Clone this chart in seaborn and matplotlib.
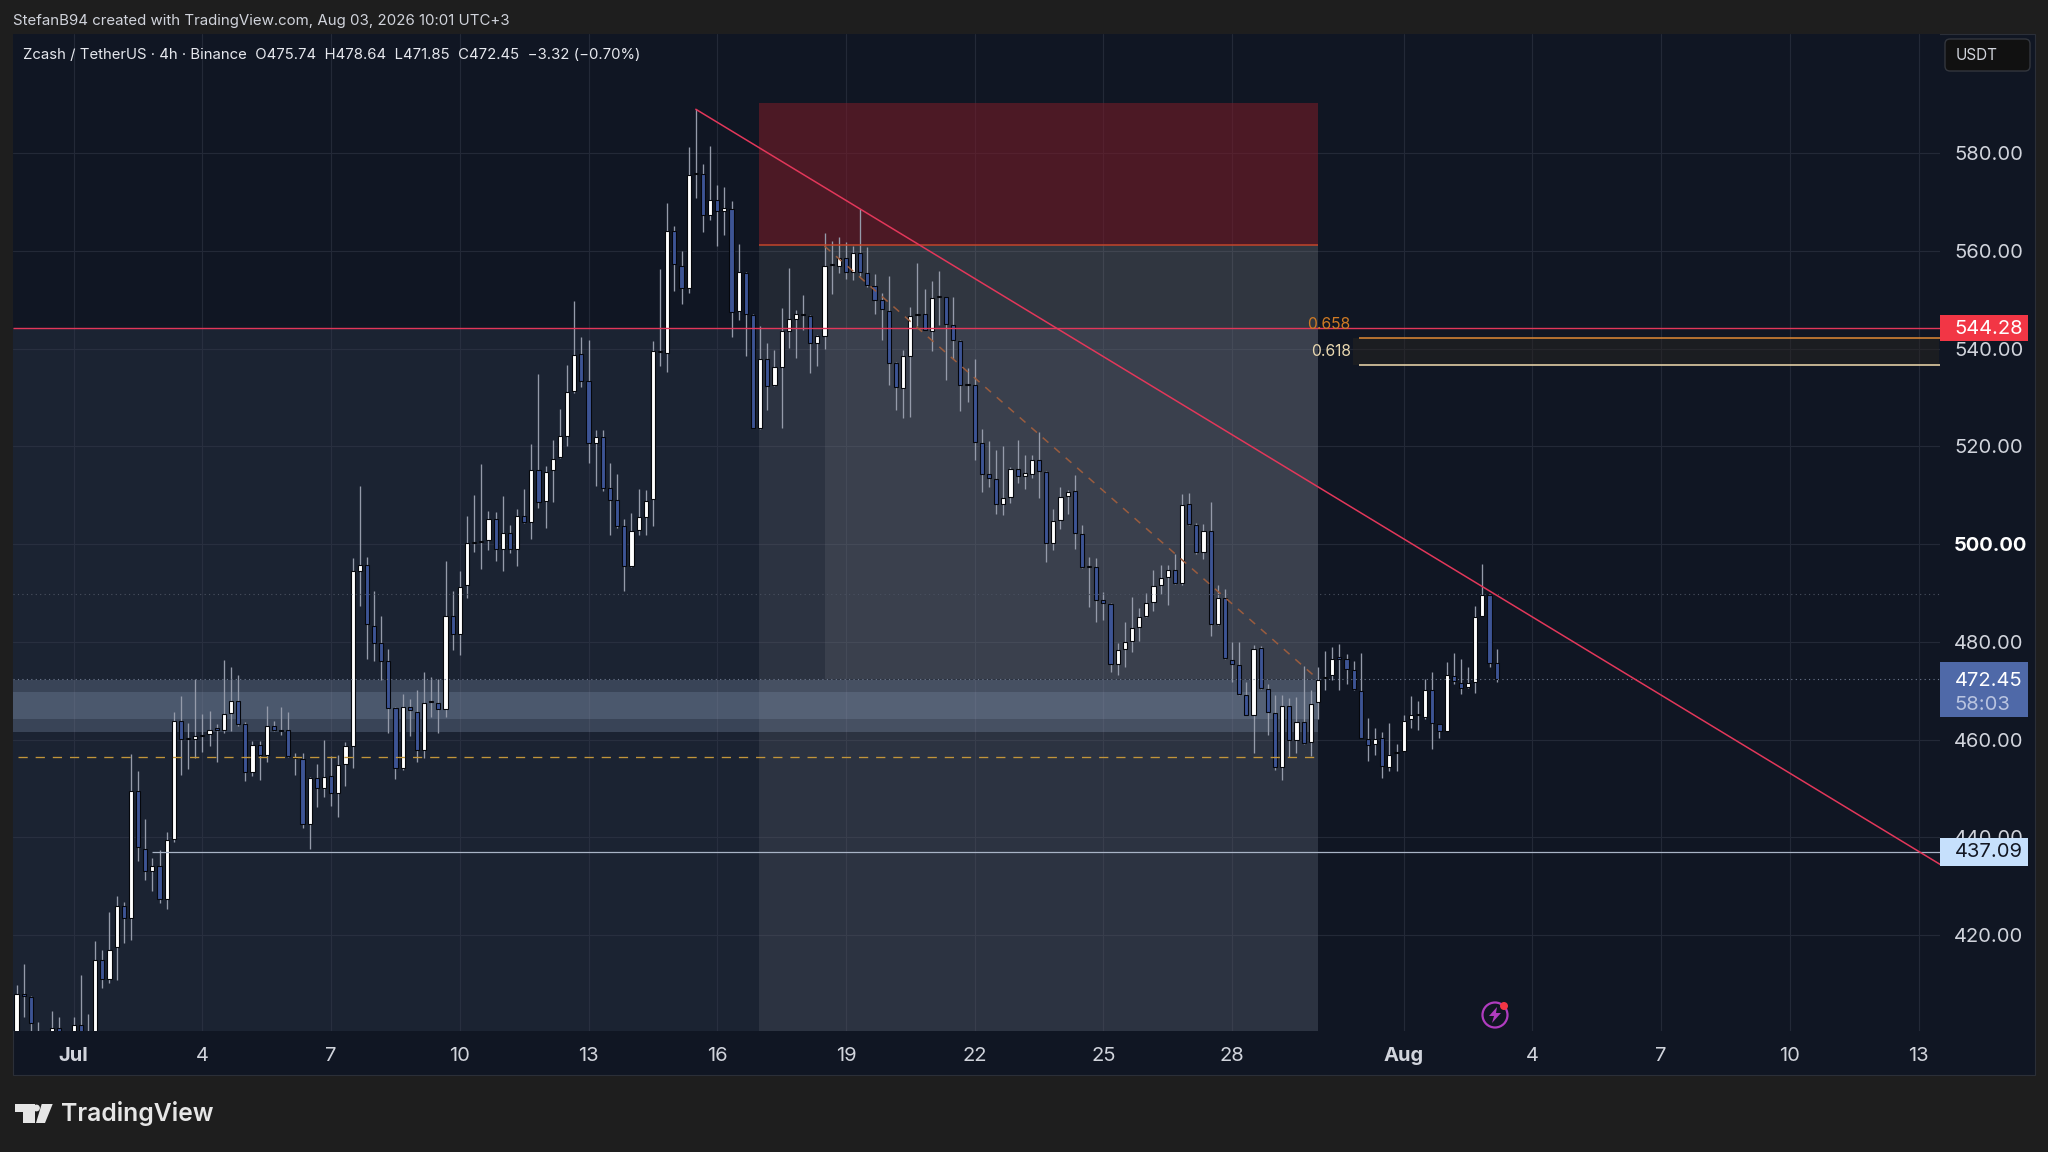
import numpy as np
import pandas as pd
import seaborn as sns
import matplotlib
matplotlib.use("Agg")
import matplotlib.pyplot as plt
from matplotlib.patches import Rectangle, Polygon, Circle, FancyBboxPatch
from matplotlib.transforms import IdentityTransform

# 4h candles (first one is 8 bars before Jul 1)
opens = [396, 408, 407.3, 399, 398, 398, 401, 399, 399, 401.7, 399, 399,
         415, 411.1, 417.5, 426, 423.5, 449.6, 437.7, 433.1, 434.1, 427.5, 439.6, 463.8,
         460.1, 460.2, 460.7, 461.1, 462.3, 462, 465.5, 467.9, 463.2, 453.3, 458.9, 456.9,
         462.8, 462, 462, 456.5, 456, 442.8, 452.2, 450.2, 452.5, 449, 455.1, 458.8,
         494.5, 495.8, 483.2, 479.7, 476.1, 466.4, 454.3, 466.6, 465.7, 457.8, 467.8, 467.6,
         466.2, 485.3, 481.6, 491.7, 500.3, 500.5, 500.9, 505.2, 499.1, 502.2, 499.1, 505.7,
         504.6, 515.1, 508.8, 515.1, 517.9, 522.1, 531.4, 538.9, 533.4, 520.7, 521.9, 511.6,
         509.1, 503.7, 495.6, 502.9, 505.6, 509.3, 539.4, 539.2, 564, 557, 552.4, 575.7,
         575.8, 567.4, 570.4, 568.2, 568.5, 547.8, 555.5, 546.9, 523.7, 537.8, 532.5, 536.3,
         543.7, 546.1, 547.2, 546.8, 541.1, 542.7, 557.1, 557, 558.5, 555.8, 559.5, 555.5,
         552.8, 549.9, 547.8, 537, 532, 538.6, 547, 547.2, 543.7, 550.5, 550.5, 544.9,
         541.6, 532.5, 532.6, 520.7, 514.3, 513.4, 508.2, 509.6, 515.3, 514, 514.4, 517.3,
         514.8, 500.3, 504.9, 509.8, 510.8, 502.1, 495.4, 495.4, 488.5, 487.8, 475.4, 478.5,
         480.2, 483, 485.4, 488.1, 491.7, 493.2, 494.7, 492, 508.3, 503.9, 498.4, 502.8,
         483.7, 489.1, 476.4, 475.2, 469.2, 465.1, 478.7, 470.4, 465.5, 454.5, 466.9, 460,
         463.7, 459.5, 467.7, 472.7, 473.2, 476.9, 476.5, 474.2, 470, 460.2, 459.1, 460.4,
         454.4, 457.3, 457.7, 464.2, 465.1, 464.6, 470.1, 463.2, 461.8, 473.1, 471.7, 470.7,
         471.8, 485.4, 489.7, 475.74]
closes = [408, 407.6, 402, 398, 397, 401, 399, 398, 401.7, 399, 400, 415,
          411.1, 417, 426, 423.5, 449.6, 438, 433.1, 434.1, 427.5, 439.4, 463.8, 460.1,
          460.3, 460.7, 461, 462, 462, 465.2, 468, 463.3, 453.3, 458.9, 456.9, 462.8,
          462, 461.7, 456.6, 456.3, 442.8, 452.2, 450.2, 452.4, 449, 454.8, 458.7, 494.5,
          495.8, 483.7, 479.8, 476.2, 466.4, 454.3, 466.6, 466, 457.8, 467.6, 468, 466.2,
          485.3, 481.6, 491.2, 500.2, 500.5, 500.7, 505.2, 499.1, 502.2, 499.1, 505.7, 504.5,
          515.1, 508.7, 514.7, 517.5, 522.1, 531.2, 538.7, 533.4, 520.7, 521.9, 511.6, 509.1,
          503.8, 495.6, 502.7, 505.5, 508.9, 539.5, 539.6, 564, 557.4, 552.4, 575.6, 575.9,
          567.4, 570.4, 568.2, 568.7, 547.6, 555.6, 547.1, 523.7, 537.8, 532.4, 536.2, 543.6,
          546, 547.2, 547, 541.2, 542.6, 557, 557.3, 558.5, 555.8, 559.5, 555.6, 553,
          550, 548.2, 537.1, 532.1, 538.6, 546.8, 547.2, 543.9, 550.3, 550.7, 545.1, 541.8,
          532.6, 532.7, 520.9, 514.4, 513.6, 508.2, 509.5, 515.3, 514, 514.5, 517.3, 515,
          500.2, 504.7, 509.6, 510.7, 502.4, 495.3, 495.6, 488.6, 488, 475.4, 478.3, 479.9,
          482.8, 485.2, 487.9, 491.5, 493.1, 494.7, 492, 508, 504.1, 498.4, 502.8, 483.7,
          489.1, 476.8, 475.4, 469.3, 465.1, 478.5, 470.6, 465.6, 454.4, 466.8, 460, 463.7,
          459.3, 467.3, 472.3, 472.9, 476.5, 476.6, 474.5, 470.3, 460.4, 459, 460.2, 454.6,
          456.9, 457.5, 463.8, 465, 465.3, 470.1, 463.4, 461.8, 473.2, 472.1, 470.6, 471.7,
          485.1, 489.7, 475.7, 472.45]
highs = [409.8, 414.2, 407.5, 402.2, 399, 404.5, 403.2, 400, 403.2, 411.8, 403.8, 418.8,
         417, 424.7, 428, 426.8, 457.1, 453.6, 443.7, 435.8, 437.5, 441.2, 465.6, 468.9,
         463.5, 472.5, 465.2, 465.8, 463.3, 476.3, 474.8, 473.3, 463.6, 459.7, 459.7, 466.9,
         463.9, 466.7, 465.6, 457.2, 457.2, 452.4, 455, 460, 456.6, 456.9, 459.5, 497.2,
         511.9, 497.3, 490.5, 485.3, 478.6, 466.6, 469.4, 468.4, 470.1, 473.9, 472.9, 472.5,
         496.5, 490.4, 494.6, 505.7, 510, 516.4, 506.8, 506.5, 509.8, 504, 507.3, 511.4,
         520.6, 534.9, 516, 521.3, 527.7, 536.7, 549.7, 542.4, 541.8, 523.4, 523.4, 516.7,
         514.4, 505.2, 506.4, 511.4, 511.1, 541.6, 556.4, 569.9, 565.2, 560, 581.3, 589,
         577.7, 581.4, 573.6, 573, 570.2, 561.4, 555.6, 547.2, 544.6, 541.2, 539.7, 548.4,
         556.6, 548, 551, 547, 542.8, 563.7, 562, 562.8, 561.8, 561.1, 568.6, 560.8,
         555.3, 551.4, 554.9, 537.2, 539.7, 548.5, 557.6, 552.2, 553.8, 556, 550.6, 550.5,
         541.8, 536, 537.8, 523.6, 521.1, 519.2, 520, 515.7, 521.3, 518.3, 518.3, 523,
         515, 507.3, 511.7, 511.1, 514.1, 504, 497.3, 497.1, 490.3, 488, 479.7, 484.1,
         489.2, 487, 490.1, 494.8, 495.8, 495.8, 497.9, 510.2, 510.4, 504.4, 504.2, 508.7,
         491.7, 490.9, 479.9, 479.9, 471.8, 479.3, 479.1, 471.3, 469.2, 469.2, 468.5, 468.7,
         475, 470.2, 474.8, 478.2, 479, 479.5, 477.5, 476.2, 477.8, 464.5, 462.4, 461.5,
         463.4, 459.1, 465, 468.9, 467.9, 472.4, 473.8, 463.3, 476, 477.8, 476.5, 474.9,
         487.3, 495.9, 489.9, 478.64]
lows = [392, 403.2, 399, 395, 395, 396, 396, 395, 397, 396, 397, 397,
        409.2, 410.2, 410.9, 418.5, 419, 435.2, 431.3, 429, 426.5, 425.3, 439, 452.8,
        454.1, 456.3, 457.5, 458.8, 455.4, 461.4, 461.8, 462.8, 451.5, 452.5, 451.8, 455.4,
        461.8, 461, 456.4, 452.8, 442, 437.7, 446.2, 448.2, 446.4, 444.1, 450.5, 454.3,
        487.3, 476.6, 476.1, 472.2, 461.4, 452, 453.8, 460.7, 455.4, 456.3, 464.6, 461.4,
        464.6, 478.4, 477.4, 488.9, 498.5, 495, 498.8, 496.5, 494.5, 498.3, 495.5, 504.3,
        501, 507.4, 503.3, 508.6, 517.7, 520.1, 531, 532.1, 516.7, 511.9, 510.9, 501.9,
        503.4, 490.4, 495.4, 501.9, 501.9, 503.8, 536.4, 535.3, 551.8, 549.2, 551.5, 570.8,
        563.9, 566.3, 561.1, 563.2, 542.5, 545.9, 538.6, 523.7, 523.5, 527.4, 532.4, 523.8,
        540.2, 538.2, 543.9, 535.1, 536.5, 539.9, 551.2, 555.5, 554.3, 554.1, 554.8, 552.7,
        547.2, 541.8, 532.6, 527.4, 525.9, 526.1, 544.7, 543.8, 539.5, 544.9, 533.6, 537.8,
        527.2, 529.2, 517.2, 510.7, 511.7, 506.1, 506, 508.4, 512.5, 511.2, 513.6, 509.4,
        496.4, 498.8, 503.1, 506.1, 499, 495.2, 487.2, 484.1, 484.4, 473.9, 473.3, 474.8,
        477.9, 480.2, 485.2, 486.4, 489.8, 487.5, 491.9, 491.7, 504, 498.1, 496.9, 481.2,
        483.5, 476.6, 471.8, 469.2, 465, 457.2, 470.4, 461, 453.9, 451.8, 456.4, 457.2,
        459.1, 456.6, 464.2, 470.2, 472.3, 470.1, 471.4, 470.2, 460.3, 455.6, 456.8, 452.2,
        453.7, 453.7, 457.6, 462.3, 461.9, 464.2, 458, 460.3, 461.7, 471.3, 469.3, 470.5,
        469.6, 485.3, 474.8, 471.85]

price_ticks = [420, 440, 460, 480, 500, 520, 540, 560, 580]
price_labels = ["420.00", "440.00", "460.00", "480.00", "500.00", "520.00", "540.00", "560.00", "580.00"]
day_ticks = [0, 18, 36, 54, 72, 90, 108, 126, 144, 162, 186, 204, 222, 240, 258]
day_labels = ["Jul", "4", "7", "10", "13", "16", "19", "22", "25", "28", "Aug", "4", "7", "10", "13"]

trend_x = [87, 261]
trend_y = [589.0, 434.5]
dash_x = [105, 174]
dash_y = [561.0, 472.4]

df = pd.DataFrame({"open": opens, "high": highs, "low": lows, "close": closes})
df["bar"] = np.arange(len(df)) - 8
up = df[df["close"] >= df["open"]]
down = df[df["close"] < df["open"]]

sns.set_theme(style="dark")
plt.rcParams["font.family"] = ["Inter", "DejaVu Sans"]

OUTER = "#1e1e1e"
PANE = "#101623"
TEXT = "#d1d4dc"
RED = "#e2375a"

fig = plt.figure(figsize=(20.48, 11.52), dpi=100, facecolor=OUTER)


def px_rect(x0, y0, x1, y1, **kw):
    # pixel box, y measured from the top of the picture
    r = Rectangle((x0, 1152 - y1), x1 - x0, y1 - y0, transform=IdentityTransform(), **kw)
    fig.add_artist(r)
    return r


def px_text(x, y, s, **kw):
    fig.text(x / 2048, 1 - y / 1152, s, **kw)


px_rect(13, 34, 2035, 1075, facecolor=PANE, edgecolor="#2b2f38", linewidth=0.8, zorder=-1)

ax = fig.add_axes([13 / 2048, 1 - 1031 / 1152, (1940 - 13) / 2048, (1031 - 34) / 1152])
ax.set_facecolor(PANE)
ax.set_xlim(-8.49, 261)
ax.set_ylim(400.4, 604.4)
sns.despine(ax=ax, left=True, bottom=True)

ax.yaxis.tick_right()
ax.set_yticks(price_ticks, price_labels)
ax.set_xticks(day_ticks, day_labels)
ax.tick_params(axis="y", length=0, pad=10, labelsize=14.5, labelcolor=TEXT)
ax.tick_params(axis="x", length=0, pad=11.4, labelsize=14.5, labelcolor=TEXT)
for lab in ax.get_yticklabels():
    if lab.get_text() == "500.00":
        lab.set_fontweight("bold")
        lab.set_color("#ffffff")
for lab in ax.get_xticklabels():
    if lab.get_text() in ("Jul", "Aug"):
        lab.set_fontweight("bold")
ax.grid(True, color="#232937", linewidth=0.8, zorder=1)
ax.set_axisbelow(True)

# tinted boxes
zone_end = 174
ax.add_patch(Rectangle((-8.49, 400.4), zone_end + 8.49, 544.28 - 400.4, facecolor="#323c50", alpha=0.35, zorder=1.5, lw=0))
ax.add_patch(Rectangle((95.85, 400.4), zone_end - 95.85, 561.2 - 400.4, facecolor="#c8c8c8", alpha=0.10, zorder=1.6, lw=0))
ax.add_patch(Rectangle((105, 472.4), zone_end - 105, 561.2 - 472.4, facecolor="#c8c8c8", alpha=0.09, zorder=1.7, lw=0))
ax.add_patch(Rectangle((95.85, 561.2), zone_end - 95.85, 590.3 - 561.2, facecolor="#751c28", alpha=0.60, zorder=1.6, lw=0))
ax.add_patch(Rectangle((-8.49, 461.6), zone_end + 8.49, 472.3 - 461.6, facecolor="#96a9c6", alpha=0.25, zorder=1.8, lw=0))
ax.add_patch(Rectangle((-8.49, 464.2), zone_end + 8.49, 469.8 - 464.2, facecolor="#96a9c6", alpha=0.20, zorder=1.9, lw=0))
ax.add_patch(Rectangle((178.9, 536.6), 82, 542.1 - 536.6, facecolor="#2a2620", alpha=0.45, zorder=1.8, lw=0))

# candles
ax.vlines(df["bar"], df["low"], df["high"], color="#959baa", linewidth=0.95, zorder=3)
ax.bar(up["bar"], up["close"] - up["open"], bottom=up["open"], width=0.58,
       color="#ffffff", edgecolor="#05070c", linewidth=0.8, zorder=4)
ax.bar(down["bar"], down["open"] - down["close"], bottom=down["close"], width=0.58,
       color="#3d5494", edgecolor="#05070c", linewidth=0.8, zorder=4)

# drawings
ax.hlines(489.8, -8.49, 261, color="#4a5160", linewidth=0.8, linestyles=(0, (1, 3)), zorder=5)
ax.hlines(472.45, -8.49, 261, color="#6f7a90", linewidth=0.8, linestyles=(0, (1, 3)), zorder=5)
ax.hlines(456.4, -7.8, 173.6, color="#c2953a", linewidth=0.95, linestyles=(0, (7, 6)), zorder=5)
ax.hlines(437.09, 11, 261, color="#a9b4c6", linewidth=0.9, zorder=5)
ax.hlines(544.28, -8.49, 261, color=RED, linewidth=1.0, zorder=5)
ax.hlines(561.2, 95.85, zone_end, color="#c2452a", linewidth=1.1, zorder=5)
ax.hlines(542.1, 179.8, 261, color="#e08a35", linewidth=1.1, zorder=5)
ax.hlines(536.6, 179.8, 261, color="#f2dcae", linewidth=1.1, zorder=5)
sns.lineplot(x=dash_x, y=dash_y, ax=ax, color="#9a5c3e", linewidth=1.1, linestyle=(0, (5, 5)), zorder=5)
sns.lineplot(x=trend_x, y=trend_y, ax=ax, color=RED, linewidth=1.1, zorder=6)
ax.set_xlabel("")
ax.set_ylabel("")

ax.text(178.6, 544.9, "0.658", color="#cf7a24", fontsize=11.3, ha="right", va="center", zorder=6)
ax.text(178.6, 539.4, "0.618", color="#e8d7b0", fontsize=11.3, ha="right", va="center", zorder=6)

# price tags on the scale
ytrans = ax.get_yaxis_transform()
tag_w = 88 / 1927
for low_edge, high_edge, col in [(541.5, 547.0, "#f23645"), (464.6, 475.9, "#4f69a8"), (434.2, 439.9, "#c6e0fc")]:
    ax.add_patch(Rectangle((1.0, low_edge), tag_w, high_edge - low_edge, transform=ytrans,
                           facecolor=col, lw=0, clip_on=False, zorder=7))
ax.text(1.0075, 544.0, "544.28", transform=ytrans, color="#ffffff", fontsize=14.5, va="center", zorder=8, clip_on=False)
ax.text(1.0075, 472.0, "472.45", transform=ytrans, color="#ffffff", fontsize=14.5, va="center", zorder=8, clip_on=False)
ax.text(1.0075, 467.2, "58:03", transform=ytrans, color="#b9c4e0", fontsize=14.5, va="center", zorder=8, clip_on=False)
ax.text(1.0075, 437.0, "437.09", transform=ytrans, color="#131722", fontsize=14.5, va="center", zorder=8, clip_on=False)

# header text
px_text(13, 21, "StefanB94 created with TradingView.com, Aug 03, 2026 10:01 UTC+3", color=TEXT, fontsize=10.8, va="center")
px_text(23, 55, "Zcash / TetherUS · 4h · Binance  O475.74  H478.64  L471.85  C472.45  −3.32 (−0.70%)",
        color="#e6e8ee", fontsize=10.75, va="center")

# currency button
fig.add_artist(FancyBboxPatch((1945, 1152 - 71), 85, 32, boxstyle="round,pad=0,rounding_size=5",
                              transform=IdentityTransform(), facecolor="#111111", edgecolor="#33363d", linewidth=1.0))
px_text(1956, 55, "USDT", color=TEXT, fontsize=11, va="center")

# replay badge
fig.add_artist(Circle((1495, 1152 - 1015), 12.5, transform=IdentityTransform(), facecolor="none", edgecolor="#b03cc0", linewidth=1.6))
fig.add_artist(Polygon([(1497, 1152 - 1007), (1489, 1152 - 1016), (1494, 1152 - 1016), (1492, 1152 - 1023),
                        (1501, 1152 - 1013), (1496, 1152 - 1013)], closed=True, transform=IdentityTransform(),
                       facecolor="#b03cc0", edgecolor="none"))
fig.add_artist(Circle((1504, 1152 - 1006), 4, transform=IdentityTransform(), facecolor="#f23645", edgecolor="none"))

# footer logo
LOGO = "#e6e6e6"
for pts in [[(15, 1104), (35, 1104), (35, 1123), (23, 1123), (23, 1112), (15, 1112)],
            [(41.7, 1104), (52.7, 1104), (45, 1123), (36, 1123)]]:
    fig.add_artist(Polygon([(a, 1152 - b) for a, b in pts], closed=True, transform=IdentityTransform(),
                           facecolor=LOGO, edgecolor="none"))
fig.add_artist(Circle((36.5, 1152 - 1108), 3.4, transform=IdentityTransform(), facecolor=LOGO, edgecolor="none"))
px_text(61, 1114, "TradingView", color=LOGO, fontsize=17.8, fontweight="semibold", va="center")

fig.savefig("out.png", dpi=100, facecolor=fig.get_facecolor())
